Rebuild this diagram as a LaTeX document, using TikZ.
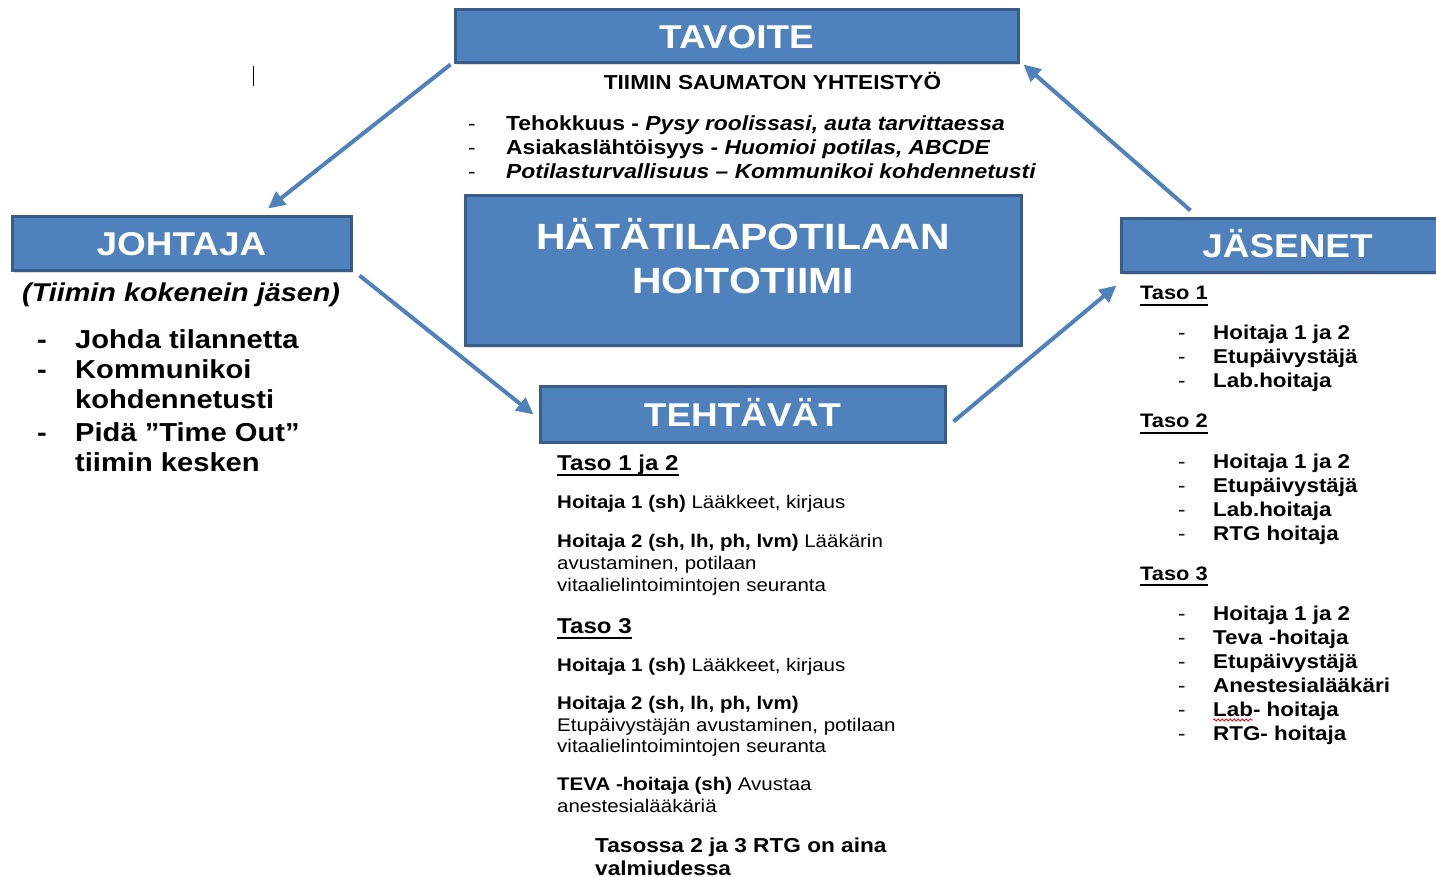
\documentclass[tikz,border=0pt]{standalone}
\usepackage{fontspec}
\setmainfont{Liberation Sans}[FakeStretch=1.12]
\usetikzlibrary{arrows.meta,shadows,decorations.pathmorphing}
\definecolor{boxblue}{HTML}{4F81BD}
\definecolor{boxedge}{HTML}{385D8A}
\begin{document}
\begin{tikzpicture}[x=1pt,y=-1pt,
  bluebox/.style={draw=boxedge, line width=3pt, fill=boxblue, inner sep=0pt,
    drop shadow={opacity=0.25,shadow xshift=2pt,shadow yshift=-2pt}},
  hdr/.style={text=white, font=\fontsize{33}{36}\selectfont\bfseries, text height=23.6pt, text depth=0pt},
  txt/.style={anchor=base west, inner sep=0pt},
  ctxt/.style={anchor=base, inner sep=0pt},
  titlef/.style={font=\fontsize{20.2}{24}\selectfont\bfseries},
  goalf/.style={font=\fontsize{20.4}{24}\selectfont\bfseries},
  dashf/.style={font=\fontsize{20}{24}\selectfont},
  leadf/.style={font=\fontsize{26}{30}\selectfont\bfseries},
  tasof/.style={font=\fontsize{21.5}{26}\selectfont\bfseries},
  bodyf/.style={font=\fontsize{18.3}{22}\selectfont},
  notef/.style={font=\fontsize{20.2}{24}\selectfont\bfseries},
  memf/.style={font=\fontsize{20}{24}\selectfont\bfseries},
  memtaso/.style={font=\fontsize{19.5}{24}\selectfont\bfseries},
  uline/.style={line width=1.6pt},
  flow/.style={draw=boxblue, line width=4pt, -{Triangle[length=17pt,width=16pt]}}
]
\useasboundingbox (0,0) rectangle (1436,877);
\clip (0,0) rectangle (1436,877);

% boxes
\node[bluebox, hdr, minimum width=563pt, minimum height=53pt] (tavoite) at (736.5,36.5) {TAVOITE};
\node[bluebox, hdr, minimum width=339pt, minimum height=54pt] (johtaja) at (181.5,244) {JOHTAJA};
\node[bluebox, minimum width=556pt, minimum height=150pt] (hoito) at (743,271) {};
\node[bluebox, hdr, minimum width=405pt, minimum height=55pt] (tehtavat) at (742.5,414.5) {TEHTÄVÄT};
\node[bluebox, hdr, minimum width=333pt, minimum height=54pt] (jasenet) at (1287.5,246) {JÄSENET};

\node[ctxt, text=white, font=\fontsize{36.5}{44}\selectfont\bfseries] (hoito1) at (743,250) {HÄTÄTILAPOTILAAN};
\node[ctxt, text=white, font=\fontsize{36.5}{44}\selectfont\bfseries] (hoito2) at (743,294) {HOITOTIIMI};

% arrows
\draw[flow] ([xshift=-3pt]tavoite.south west) -- ([xshift=86.5pt,yshift=7pt]johtaja.north);
\draw[flow] ([xshift=7pt,yshift=-3pt]johtaja.south east) -- ([xshift=-5pt]tehtavat.west);
\draw[flow] ([xshift=7pt,yshift=-7pt]tehtavat.east) -- ([xshift=-3pt,yshift=-11pt]jasenet.south west);
\draw[flow] ([xshift=71pt,yshift=7pt]jasenet.north west) -- ([xshift=4pt]tavoite.south east);

% cursor mark
\draw[line width=1.3pt] (253.5,66) -- (253.5,86);

% goal text
\node[ctxt, titlef] (goal) at (772.5,90) {TIIMIN SAUMATON YHTEISTYÖ};
\node[txt, dashf] (gd1) at (468,131) {-};
\node[txt, dashf] (gd2) at (468,155) {-};
\node[txt, dashf] (gd3) at (468,179) {-};
\node[txt, goalf] (g1) at (506,131) {Tehokkuus - \itshape Pysy roolissasi, auta tarvittaessa};
\node[txt, goalf] (g2) at (506,155) {Asiakaslähtöisyys - \itshape Huomioi potilas, ABCDE};
\node[txt, goalf] (g3) at (506,179) {\itshape Potilasturvallisuus – Kommunikoi kohdennetusti};

% leader text
\node[txt, font=\fontsize{25.7}{30}\selectfont\bfseries\itshape] (lsub) at (22,302) {(Tiimin kokenein jäsen)};
\node[txt, leadf] (ld1) at (37,349) {-};
\node[txt, leadf] (ld2) at (37,379) {-};
\node[txt, leadf] (ld3) at (37,441) {-};
\node[txt, leadf] (l1) at (75,349) {Johda tilannetta};
\node[txt, leadf] (l2) at (75,379) {Kommunikoi};
\node[txt, leadf] (l3) at (75,409) {kohdennetusti};
\node[txt, leadf] (l4) at (75,441) {Pidä ”Time Out”};
\node[txt, leadf] (l5) at (75,471) {tiimin kesken};

% tasks text
\node[txt, tasof] (t12) at (557,470) {Taso 1 ja 2};
\draw[uline] ([yshift=-5pt]t12.base west) -- ([yshift=-5pt]t12.base east);
\node[txt, bodyf] (ta1) at (557,508.5) {\textbf{Hoitaja 1 (sh)} Lääkkeet, kirjaus};
\node[txt, bodyf] (ta2) at (557,547.5) {\textbf{Hoitaja 2 (sh, lh, ph, lvm)} Lääkärin};
\node[txt, bodyf] (ta3) at (557,569.5) {avustaminen, potilaan};
\node[txt, bodyf] (ta4) at (557,591.5) {vitaalielintoimintojen seuranta};
\node[txt, tasof] (t3) at (557,633) {Taso 3};
\draw[uline] ([yshift=-5pt]t3.base west) -- ([yshift=-5pt]t3.base east);
\node[txt, bodyf] (tb1) at (557,671.5) {\textbf{Hoitaja 1 (sh)} Lääkkeet, kirjaus};
\node[txt, bodyf] (tb2) at (557,709.5) {\textbf{Hoitaja 2 (sh, lh, ph, lvm)}};
\node[txt, bodyf] (tb3) at (557,731.5) {Etupäivystäjän avustaminen, potilaan};
\node[txt, bodyf] (tb4) at (557,752.5) {vitaalielintoimintojen seuranta};
\node[txt, bodyf] (tb5) at (557,790.5) {\textbf{TEVA -hoitaja (sh)} Avustaa};
\node[txt, bodyf] (tb6) at (557,812.5) {anestesialääkäriä};
\node[txt, notef] (n1) at (595,852) {Tasossa 2 ja 3 RTG on aina};
\node[txt, notef] (n2) at (595,875) {valmiudessa};

% members text
\node[txt, memtaso] (m1) at (1140,300) {Taso 1};
\draw[uline] ([yshift=-5pt]m1.base west) -- ([yshift=-5pt]m1.base east);
\foreach \y/\t [count=\i] in {340/Hoitaja 1 ja 2, 364/Etupäivystäjä, 388/Lab.hoitaja}{
  \node[txt, dashf] (ma\i d) at (1178,\y) {-};
  \node[txt, memf] (ma\i) at (1213,\y) {\t};
}
\node[txt, memtaso] (m2) at (1140,428) {Taso 2};
\draw[uline] ([yshift=-5pt]m2.base west) -- ([yshift=-5pt]m2.base east);
\foreach \y/\t [count=\i] in {468/Hoitaja 1 ja 2, 492/Etupäivystäjä, 516/Lab.hoitaja, 540/RTG hoitaja}{
  \node[txt, dashf] (mb\i d) at (1178,\y) {-};
  \node[txt, memf] (mb\i) at (1213,\y) {\t};
}
\node[txt, memtaso] (m3) at (1140,580) {Taso 3};
\draw[uline] ([yshift=-5pt]m3.base west) -- ([yshift=-5pt]m3.base east);
\foreach \y/\t [count=\i] in {620/Hoitaja 1 ja 2, 644/Teva -hoitaja, 668/Etupäivystäjä, 692/Anestesialääkäri, 716/Lab- hoitaja, 740/RTG- hoitaja}{
  \node[txt, dashf] (mc\i d) at (1178,\y) {-};
  \node[txt, memf] (mc\i) at (1213,\y) {\t};
}
\draw[red, line width=0.8pt, decorate, decoration={snake, amplitude=1pt, segment length=4pt}] (1213,720) -- (1253,720);
\end{tikzpicture}
\end{document}
